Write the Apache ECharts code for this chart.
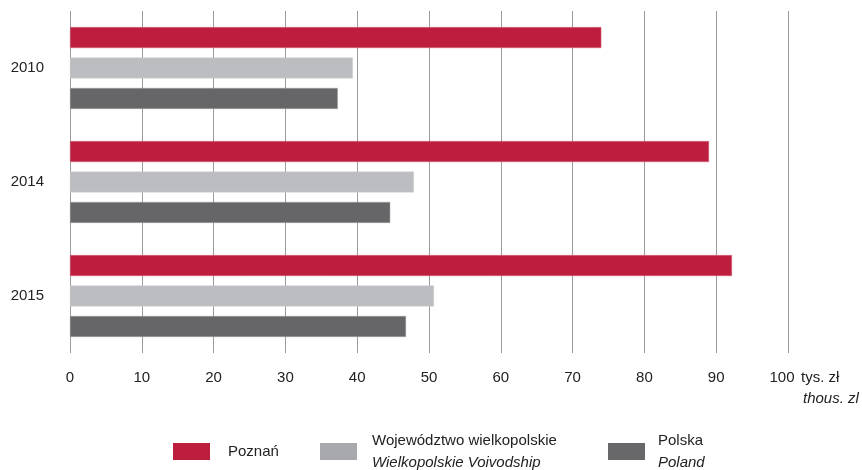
<!DOCTYPE html>
<html>
<head>
<meta charset="utf-8">
<script src="https://cdn.jsdelivr.net/npm/echarts@6/dist/echarts.min.js"></script>
<style>
html,body{margin:0;padding:0;background:#fff;}
#chart{width:862px;height:470px;}
</style>
</head>
<body>
<div id="chart"></div>
<script>
const categories = ['2010', '2014', '2015'];
const poznan = [74.0, 89.0, 92.2];
const wielkopolskie = [39.4, 47.9, 50.7];
const polska = [37.3, 44.6, 46.8];
const xTicks = [0, 10, 20, 30, 40, 50, 60, 70, 80, 90, 100];

const FONT = '"Liberation Sans", Arial, sans-serif';
const chart = echarts.init(document.getElementById('chart'));

function legendCfg(name, left, top, pad, color, rich) {
  return {
    left: left, top: top, orient: 'horizontal', padding: 0,
    itemWidth: 37, itemHeight: 17, icon: 'rect',
    selectedMode: false,
    data: [{ name: name, itemStyle: { color: color, borderWidth: 0 } }],
    formatter: rich,
    textStyle: {
      fontFamily: FONT, fontSize: 15, color: '#222',
      rich: {
        a: { fontFamily: FONT, fontSize: 15, color: '#222', lineHeight: 22, padding: [0, 0, 0, pad] },
        b: { fontFamily: FONT, fontSize: 15, color: '#222', fontStyle: 'italic', lineHeight: 22, padding: [0, 0, 0, pad] }
      }
    }
  };
}

const maxTick = xTicks[xTicks.length - 1];

const option = {
  animation: false,
  grid: { left: 70, right: 74, top: 11, bottom: 117, containLabel: false },
  xAxis: {
    type: 'value', min: xTicks[0], max: maxTick, interval: 10,
    axisLine: { show: false }, axisTick: { show: false },
    splitLine: { show: true, lineStyle: { color: '#9b9b9b', width: 1 } },
    axisLabel: {
      fontFamily: FONT, fontSize: 15, color: '#222', margin: 17,
      formatter: function (v) { return v === maxTick ? '{m|' + v + '}' : String(v); },
      rich: { m: { fontFamily: FONT, fontSize: 15, color: '#222', padding: [0, 12, 0, 0] } }
    }
  },
  yAxis: {
    type: 'category', data: categories, inverse: true,
    axisLine: { show: false }, axisTick: { show: false },
    axisLabel: { fontFamily: FONT, fontSize: 15, color: '#222', margin: 26 }
  },
  legend: [
    legendCfg('Poznań', 173, 443, 13, '#BE1E3E', function () { return '{a|Poznań}'; }),
    legendCfg('Województwo wielkopolskie', 320, 433, 10, '#A8A9AC', function () { return '{a|Województwo wielkopolskie}\n{b|Wielkopolskie Voivodship}'; }),
    legendCfg('Polska', 608, 433, 8, '#68686B', function () { return '{a|Polska}\n{b|Poland}'; })
  ],
  graphic: [
    { type: 'text', left: 801, top: 370, style: { text: 'tys. zł', font: '15px ' + FONT, fill: '#222' } },
    { type: 'text', left: 803, top: 391, style: { text: 'thous. zl', font: 'italic 15px ' + FONT, fill: '#222' } }
  ],
  series: [
    { name: 'Poznań', type: 'bar', data: poznan, barWidth: 21, barGap: '45%',
      itemStyle: { color: '#BE1E3E', borderColor: '#D46A80', borderWidth: 0.5 } },
    { name: 'Województwo wielkopolskie', type: 'bar', data: wielkopolskie, barWidth: 21, barGap: '45%',
      itemStyle: { color: '#BCBDC0', borderColor: '#D2D3D5', borderWidth: 0.5 } },
    { name: 'Polska', type: 'bar', data: polska, barWidth: 21, barGap: '45%',
      itemStyle: { color: '#666668', borderColor: '#A0A0A2', borderWidth: 0.5 } }
  ]
};
chart.setOption(option);
</script>
</body>
</html>
